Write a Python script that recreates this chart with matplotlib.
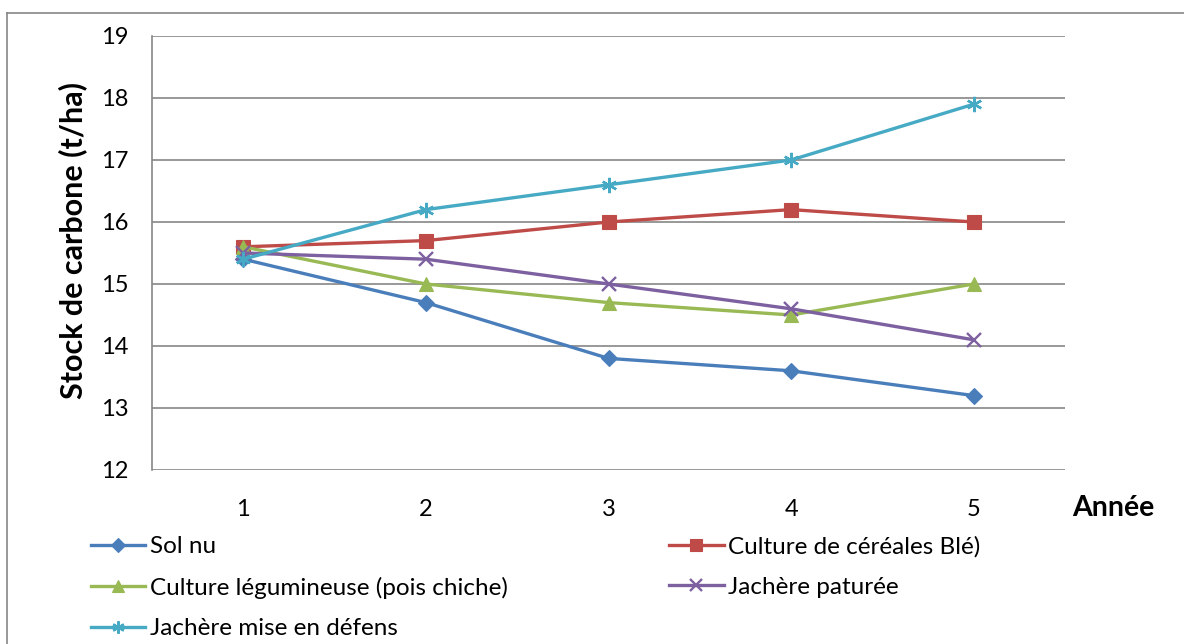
import matplotlib
matplotlib.use('Agg')
import matplotlib.pyplot as plt
from matplotlib.lines import Line2D

plt.rcParams['font.family'] = ['Lato', 'DejaVu Sans']

annees = [1, 2, 3, 4, 5]
sol_nu = [15.4, 14.7, 13.8, 13.6, 13.2]
cereales = [15.6, 15.7, 16.0, 16.2, 16.0]
legumineuse = [15.6, 15.0, 14.7, 14.5, 15.0]
jachere_paturee = [15.5, 15.4, 15.0, 14.6, 14.1]
jachere_defens = [15.4, 16.2, 16.6, 17.0, 17.9]

series = [
    ('Sol nu', sol_nu, '#4A7EBB', 'D', 8.5),
    ('Culture de céréales Blé)', cereales, '#BE4B48', 's', 10),
    ('Culture légumineuse (pois chiche)', legumineuse, '#98B954', '^', 10.5),
    ('Jachère paturée', jachere_paturee, '#7D60A0', 'x', 10),
    ('Jachère mise en défens', jachere_defens, '#46AAC5', (6, 2, 0), 11),
]

fig = plt.figure(figsize=(11.84, 6.44), dpi=100)
ax = fig.add_axes([0.1284, 0.2702, 0.7711, 0.6739])

handles = {}
for name, vals, color, marker, ms in series:
    (h,) = ax.plot(annees, vals, color=color, linewidth=2.4, marker=marker,
                   markersize=ms, markeredgewidth=1.7 if marker in ('x', (6, 2, 0)) else 0.8,
                   markeredgecolor=color, markerfacecolor=color, label=name,
                   solid_joinstyle='round')
    handles[name] = h

ax.set_xlim(0.5, 5.5)
ax.set_ylim(12, 19)
ax.set_xticks(annees)
ax.set_yticks(range(12, 20))
ax.grid(axis='y', color='#868686', linewidth=1.2)
ax.set_axisbelow(True)
for side in ('top', 'right', 'bottom'):
    ax.spines[side].set_visible(False)
ax.spines['left'].set_color('#868686')
ax.spines['left'].set_linewidth(1.2)
ax.tick_params(axis='both', length=0, labelsize=17, colors='black')
ax.tick_params(axis='y', pad=17)
ax.tick_params(axis='x', pad=21)

fig.text(0.061, 0.627, 'Stock de carbone (t/ha)', rotation=90, fontsize=22,
         fontweight='bold', ha='center', va='center')
fig.text(0.940, 0.211, 'Année', fontsize=20.5, fontweight='bold',
         ha='center', va='center')

order = ['Sol nu', 'Culture légumineuse (pois chiche)', 'Jachère mise en défens',
         'Culture de céréales Blé)', 'Jachère paturée']
leg = fig.legend([handles[k] for k in order], order, ncol=2, loc='upper left',
                 bbox_to_anchor=(0.058, 0.202), frameon=False, fontsize=17.5,
                 handlelength=2.26, handletextpad=0.2, columnspacing=6.6,
                 labelspacing=0.8, markerscale=0.8)

# chart border (Excel chart area)
fig.add_artist(Line2D([0.0059, 0.0059], [0.0, 0.98], color='#868686', linewidth=1.2))
fig.add_artist(Line2D([0.0059, 1.0], [0.98, 0.98], color='#868686', linewidth=1.2))

fig.savefig('out.png', dpi=100, facecolor='white')
